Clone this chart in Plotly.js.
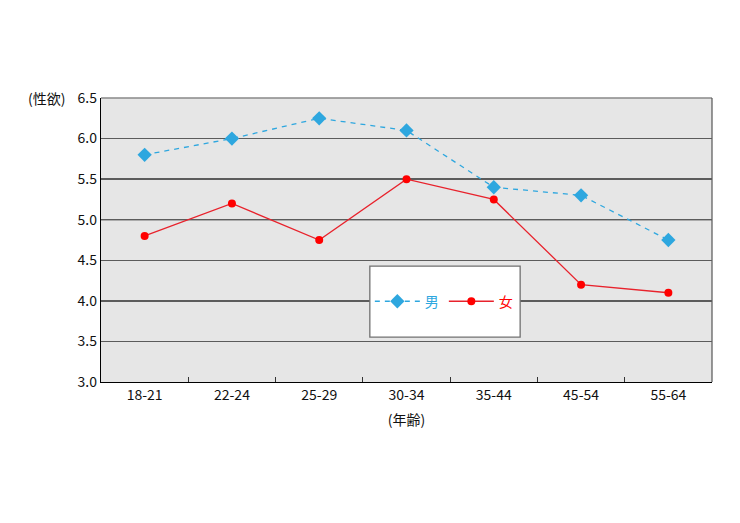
<!DOCTYPE html>
<html>
<head>
<meta charset="utf-8">
<script src="https://cdn.plot.ly/plotly-3.0.1.min.js"></script>
<style>html,body{margin:0;padding:0;background:#fff;}#chart{width:740px;height:523px;}</style>
</head>
<body>
<div id="chart"></div>
<script>
const categories = ['18-21', '22-24', '25-29', '30-34', '35-44', '45-54', '55-64'];
const maleValues = [5.8, 6.0, 6.25, 6.1, 5.4, 5.3, 4.75];
const femaleValues = [4.8, 5.2, 4.75, 5.5, 5.25, 4.2, 4.1];
const yTicks = [3.0, 3.5, 4.0, 4.5, 5.0, 5.5, 6.0, 6.5];
const yTickLabels = ['3.0', '3.5', '4.0', '4.5', '5.0', '5.5', '6.0', '6.5'];

const FONT = '"Liberation Sans Narrow", "Noto Sans CJK JP", "Noto Sans", sans-serif';
const BLUE = '#2ea7df';
const RED = '#ff0000';

const traces = [
  {
    x: categories, y: maleValues, type: 'scatter', mode: 'lines+markers',
    name: '<span style="color:' + BLUE + '">男</span>',
    line: {color: BLUE, width: 1.3, dash: '5px,5px'},
    marker: {symbol: 'diamond', size: 11, color: BLUE}
  },
  {
    x: categories, y: femaleValues, type: 'scatter', mode: 'lines+markers',
    name: '<span style="color:' + RED + '">女</span>',
    line: {color: '#e8222c', width: 1.3},
    marker: {symbol: 'circle', size: 8, color: RED}
  }
];

const layout = {
  width: 740, height: 523,
  margin: {l: 101, r: 28, t: 98, b: 141},
  paper_bgcolor: '#ffffff',
  plot_bgcolor: '#e6e6e6',
  font: {family: FONT, size: 14, color: '#111'},
  showlegend: true,
  legend: {
    orientation: 'h', x: 0.44, y: 0.283, xanchor: 'left', yanchor: 'middle',
    bgcolor: 'rgba(0,0,0,0)', borderwidth: 0,
    font: {family: '"Noto Sans CJK JP", sans-serif', size: 14},
    itemwidth: 45
  },
  xaxis: {
    type: 'category', range: [-0.5, 6.5],
    showline: true, linecolor: '#000', linewidth: 1.2, mirror: false,
    ticks: 'inside', ticklen: 5, tickcolor: '#333', tickson: 'boundaries',
    showgrid: false,
    tickfont: {family: FONT, size: 14, color: '#111'},
    title: {text: '(年齢)', font: {family: '"Noto Sans CJK JP", sans-serif', size: 14, color: '#111'}, standoff: 12}
  },
  yaxis: {
    range: [3.0, 6.5], tickvals: yTicks, ticktext: yTickLabels,
    showline: true, linecolor: '#000', linewidth: 1.2,
    showgrid: true, gridcolor: '#5c5c5c', gridwidth: 1.5,
    ticks: '', tickfont: {family: FONT, size: 14, color: '#111'},
    zeroline: false
  },
  shapes: [
    {type: 'line', xref: 'paper', yref: 'y', x0: 0, x1: 1, y0: 5.0, y1: 5.0, line: {color: '#000', width: 1.2}, layer: 'below'},
    {type: 'line', xref: 'paper', yref: 'paper', x0: 0, x1: 1, y0: 1, y1: 1, line: {color: '#888', width: 1.5}, layer: 'below'},
    {type: 'line', xref: 'paper', yref: 'paper', x0: 1, x1: 1, y0: 0, y1: 1, line: {color: '#555', width: 1.2}, layer: 'below'},
    {type: 'rect', xref: 'paper', yref: 'paper', x0: 0.440, x1: 0.686, y0: 0.158, y1: 0.408,
      fillcolor: '#ffffff', line: {color: '#707070', width: 1.3}, layer: 'above'}
  ],
  annotations: [
    {text: '(性欲)', xref: 'paper', yref: 'y', x: 0, y: 6.5, xanchor: 'right', yanchor: 'middle', xshift: -34,
      showarrow: false, font: {family: '"Noto Sans CJK JP", sans-serif', size: 14, color: '#111'}}
  ]
};

Plotly.newPlot('chart', traces, layout, {displayModeBar: false, staticPlot: true});
</script>
</body>
</html>
